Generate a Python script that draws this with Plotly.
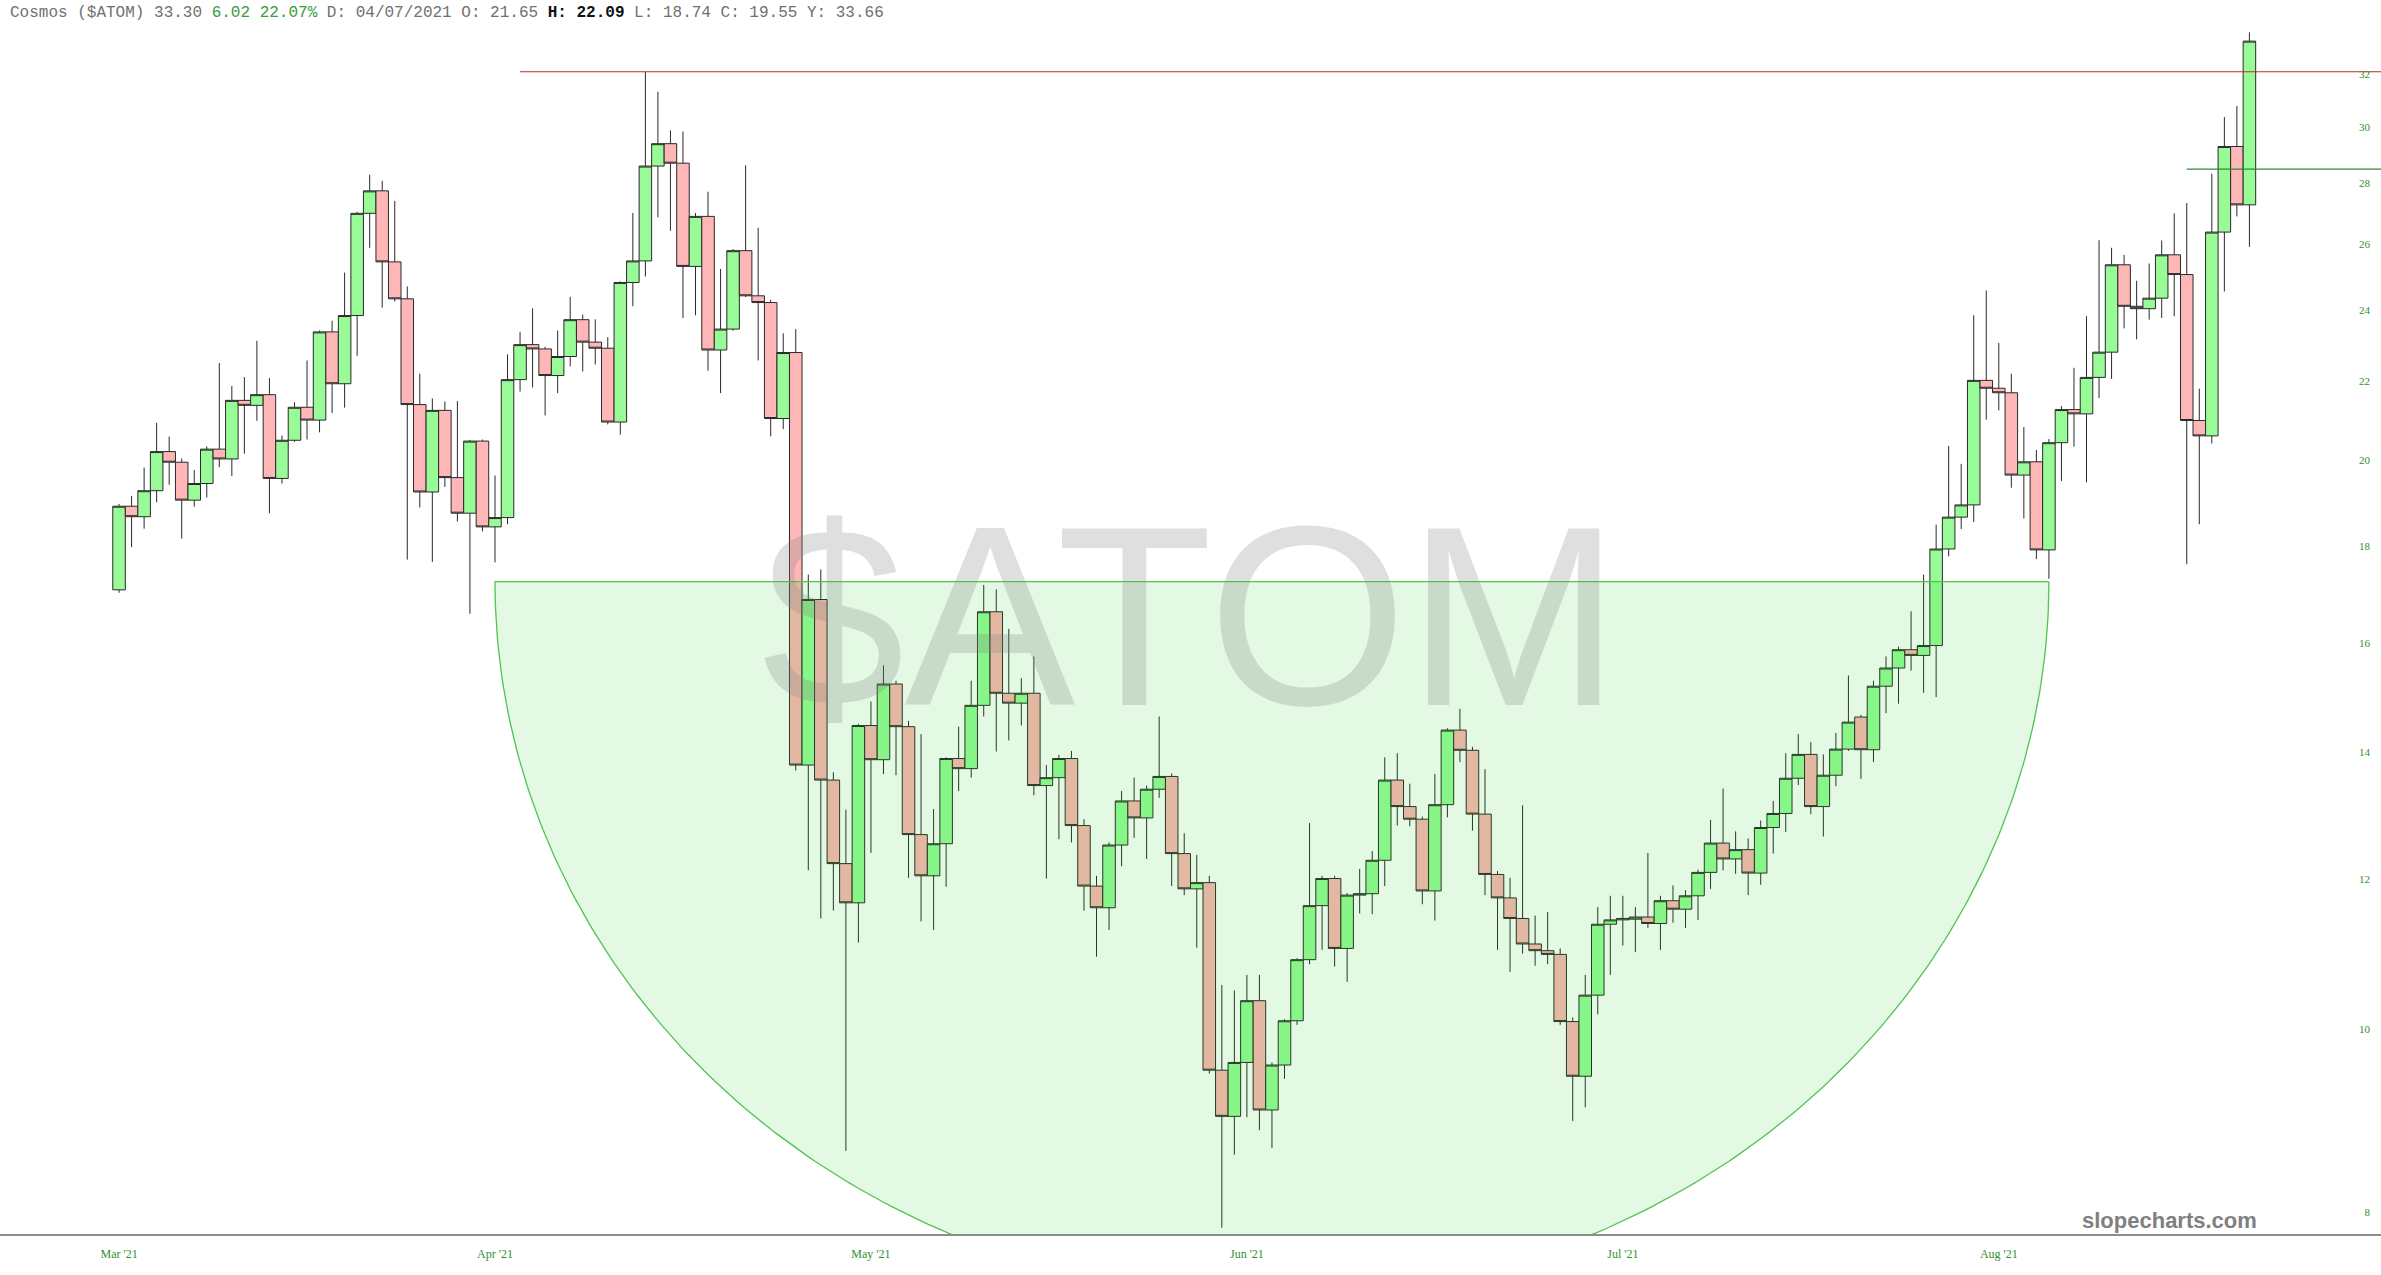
import numpy as np
import pandas as pd
import plotly.graph_objects as go

# ---------------- data ----------------
start_date = "2021-03-26"

opens = [17.07, 18.90, 18.66, 19.26, 20.20, 19.94, 19.04, 19.43, 20.26, 20.02,
         21.50, 21.37, 21.65, 19.55, 20.48, 21.32, 20.99, 23.37, 21.94, 23.84,
         27.00, 27.75, 25.45, 24.33, 21.39, 19.23, 21.24, 19.57, 18.74, 20.46,
         18.43, 18.64, 22.05, 23.01, 22.89, 22.16, 22.68, 23.72, 23.08, 22.91,
         20.94, 24.82, 25.48, 28.60, 29.39, 28.70, 25.31, 26.90, 22.86, 23.45,
         25.80, 24.42, 24.22, 21.03, 22.79, 13.79, 16.87, 13.54, 12.23, 11.66,
         14.47, 13.88, 15.22, 14.45, 12.67, 12.05, 12.53, 13.90, 13.73, 14.83,
         16.62, 15.05, 14.87, 15.05, 13.45, 13.58, 13.90, 12.81, 11.90, 11.59,
         12.51, 13.20, 12.93, 13.39, 13.60, 12.38, 11.86, 11.95, 9.51, 8.99,
         9.60, 10.35, 9.06, 9.57, 10.10, 10.88, 11.62, 12.01, 11.03, 11.77,
         11.79, 12.28, 13.54, 13.11, 12.91, 11.83, 13.14, 14.39, 14.04, 12.99,
         12.07, 11.73, 11.44, 11.09, 11.00, 10.95, 10.09, 9.44, 10.42, 11.36,
         11.42, 11.43, 11.46, 11.37, 11.69, 11.57, 11.76, 12.10, 12.54, 12.30,
         12.44, 12.09, 12.78, 13.00, 13.57, 13.97, 13.11, 13.62, 14.06, 14.62,
         14.05, 15.18, 15.52, 15.87, 15.76, 15.95, 17.94, 18.65, 18.93, 22.03,
         21.82, 21.70, 19.63, 19.95, 17.92, 20.42, 21.26, 21.15, 22.11, 22.80,
         25.36, 24.11, 24.04, 24.35, 25.67, 25.06, 20.98, 20.59, 26.39, 29.29,
         27.28]

highs = [18.95, 19.14, 19.81, 20.92, 20.57, 20.03, 19.75, 20.33, 22.50, 21.88,
         22.12, 23.12, 22.09, 20.60, 21.45, 22.57, 23.41, 23.69, 25.12, 27.05,
         28.30, 28.09, 27.41, 24.70, 22.21, 21.55, 21.47, 21.48, 20.49, 20.50,
         19.62, 22.74, 23.37, 24.05, 22.95, 23.41, 24.39, 23.87, 23.73, 23.22,
         24.85, 27.01, 32.07, 31.31, 29.87, 29.83, 27.01, 27.72, 25.23, 25.85,
         28.63, 26.53, 24.30, 23.33, 23.45, 17.39, 17.50, 13.67, 13.06, 14.50,
         14.90, 15.57, 15.28, 14.55, 14.32, 13.07, 13.92, 14.45, 15.28, 17.17,
         17.08, 16.28, 15.33, 15.74, 13.79, 13.96, 14.03, 12.91, 12.05, 12.55,
         13.36, 13.58, 13.45, 14.63, 13.65, 12.69, 12.36, 12.05, 10.55, 10.48,
         10.68, 10.68, 9.60, 10.12, 10.90, 12.85, 12.05, 12.05, 11.80, 12.15,
         12.42, 13.92, 13.99, 13.48, 12.95, 13.64, 14.42, 14.77, 14.10, 13.72,
         12.12, 12.02, 13.13, 11.48, 11.53, 11.03, 10.14, 10.68, 11.60, 11.76,
         11.76, 11.60, 12.39, 11.76, 11.91, 11.84, 12.14, 12.90, 13.40, 12.72,
         12.61, 12.89, 13.20, 13.99, 14.32, 14.18, 13.97, 14.34, 15.38, 14.66,
         15.28, 15.74, 15.93, 16.63, 17.39, 18.48, 20.34, 19.90, 23.85, 24.58,
         23.06, 22.21, 20.81, 20.24, 20.51, 21.35, 22.37, 23.82, 26.13, 25.89,
         25.67, 24.87, 25.40, 26.12, 27.00, 27.34, 21.81, 28.33, 30.36, 30.77,
         33.66]

lows = [17.01, 17.98, 18.39, 18.99, 19.40, 18.17, 18.89, 19.10, 19.82, 19.61,
        20.15, 20.97, 18.74, 19.43, 20.44, 20.50, 20.68, 21.17, 21.31, 22.70,
        25.89, 24.07, 24.25, 17.71, 18.87, 17.66, 19.35, 18.55, 16.58, 18.33,
        17.65, 18.49, 21.73, 21.84, 21.11, 21.69, 22.41, 22.27, 22.46, 20.88,
        20.62, 24.11, 25.00, 26.87, 26.43, 23.77, 23.85, 22.29, 21.69, 23.40,
        24.38, 22.57, 20.58, 20.76, 13.70, 12.13, 11.44, 11.55, 8.62, 11.11,
        12.39, 13.64, 13.62, 12.02, 11.40, 11.28, 11.89, 13.36, 13.58, 14.63,
        14.02, 14.21, 14.47, 13.29, 12.01, 12.60, 12.55, 11.55, 10.92, 11.28,
        12.19, 12.62, 12.30, 13.25, 11.90, 11.77, 11.04, 9.47, 7.85, 8.58,
        8.98, 8.84, 8.65, 9.41, 10.05, 10.82, 11.01, 10.79, 10.59, 11.51,
        11.50, 11.90, 12.81, 12.80, 11.64, 11.41, 12.94, 13.84, 12.73, 11.77,
        11.01, 10.72, 10.96, 10.80, 10.82, 10.05, 8.94, 9.09, 10.18, 10.68,
        11.07, 10.98, 11.31, 11.01, 11.38, 11.31, 11.42, 11.86, 12.13, 12.08,
        11.77, 11.92, 12.38, 12.71, 13.46, 12.99, 12.64, 13.44, 14.03, 13.56,
        13.84, 14.69, 14.86, 15.47, 15.06, 14.98, 17.78, 18.38, 18.54, 21.00,
        21.24, 19.33, 18.62, 17.72, 17.30, 19.49, 20.32, 19.46, 21.56, 22.07,
        23.47, 23.16, 23.72, 23.77, 23.82, 17.61, 18.49, 20.40, 24.55, 26.90,
        25.92]

closes = [18.90, 18.66, 19.26, 20.20, 19.94, 19.04, 19.43, 20.26, 20.02, 21.50,
          21.37, 21.65, 19.55, 20.48, 21.32, 20.99, 23.37, 21.94, 23.84, 27.00,
          27.75, 25.45, 24.33, 21.39, 19.23, 21.24, 19.57, 18.74, 20.46, 18.43,
          18.64, 22.05, 23.01, 22.89, 22.16, 22.68, 23.72, 23.08, 22.91, 20.94,
          24.82, 25.48, 28.60, 29.39, 28.70, 25.31, 26.90, 22.86, 23.45, 25.80,
          24.42, 24.22, 21.03, 22.79, 13.79, 16.87, 13.54, 12.23, 11.66, 14.47,
          13.88, 15.22, 14.45, 12.67, 12.05, 12.53, 13.90, 13.73, 14.83, 16.62,
          15.05, 14.87, 15.05, 13.45, 13.58, 13.90, 12.81, 11.90, 11.59, 12.51,
          13.20, 12.93, 13.39, 13.60, 12.38, 11.86, 11.95, 9.51, 8.99, 9.60,
          10.35, 9.06, 9.57, 10.10, 10.88, 11.62, 12.01, 11.03, 11.77, 11.79,
          12.28, 13.54, 13.11, 12.91, 11.83, 13.14, 14.39, 14.04, 12.99, 12.07,
          11.73, 11.44, 11.09, 11.00, 10.95, 10.09, 9.44, 10.42, 11.36, 11.42,
          11.44, 11.46, 11.37, 11.69, 11.57, 11.76, 12.10, 12.54, 12.30, 12.44,
          12.09, 12.78, 13.00, 13.57, 13.97, 13.11, 13.62, 14.06, 14.53, 14.05,
          15.18, 15.52, 15.87, 15.76, 15.95, 17.94, 18.65, 18.93, 22.03, 21.82,
          21.70, 19.63, 19.95, 17.92, 20.42, 21.26, 21.15, 22.11, 22.80, 25.36,
          24.11, 24.04, 24.35, 25.67, 25.06, 20.98, 20.59, 26.39, 29.29, 27.28,
          33.30]

x_tick_index = [0, 30, 60, 90, 120, 150]
x_tick_text = ["Mar '21", "Apr '21", "May '21", "Jun '21", "Jul '21", "Aug '21"]
y_tick_vals = [8, 10, 12, 14, 16, 18, 20, 22, 24, 26, 28, 30, 32]

resistance_level = 32.08      # red line
resistance_start = 32         # candle index where it starts
breakout_level = 28.49        # green line
breakout_start = 165
cup_top = 17.24               # top edge of the green bowl
cup_left, cup_right = 30, 154 # candle indices of bowl edges

# ---------------- figure ----------------
start = pd.Timestamp(start_date)
dates = pd.date_range(start, periods=len(opens), freq="D")


def day(idx):
    return start + pd.Timedelta(days=float(idx))


x_range = [day(-9.5), day(180.5)]
y_range = [np.log10(7.79), np.log10(35.01)]

fig = go.Figure()

fig.add_trace(go.Candlestick(
    x=dates, open=opens, high=highs, low=lows, close=closes,
    increasing=dict(fillcolor="#98fb98", line=dict(color="#2a2a2a", width=1)),
    decreasing=dict(fillcolor="#ffb6b6", line=dict(color="#2a2a2a", width=1)),
    whiskerwidth=0, showlegend=False, hoverinfo="skip",
))

# green bowl (half ellipse in screen space -> log space in y)
theta = np.linspace(0, np.pi, 241)
cx = (cup_left + cup_right) / 2
half_w = (cup_right - cup_left) / 2
depth_log = 0.3790
bowl_x = [day(cx + half_w * np.cos(t)) for t in theta] + [day(cup_right)]
bowl_y = list(10 ** (np.log10(cup_top) - depth_log * np.sin(theta))) + [cup_top]
fig.add_trace(go.Scatter(
    x=bowl_x, y=bowl_y, mode="lines", fill="toself",
    fillcolor="rgba(0,200,0,0.11)", line=dict(color="#4fc44f", width=1.3),
    showlegend=False, hoverinfo="skip",
))

fig.add_trace(go.Scatter(
    x=[day(resistance_start), x_range[1]], y=[resistance_level, resistance_level],
    mode="lines", line=dict(color="#c0282d", width=1.2),
    showlegend=False, hoverinfo="skip",
))
fig.add_trace(go.Scatter(
    x=[day(breakout_start), x_range[1]], y=[breakout_level, breakout_level],
    mode="lines", line=dict(color="#2e8b2e", width=1.2),
    showlegend=False, hoverinfo="skip",
))

label_green = "#2f8f2f"

fig.update_layout(
    width=2381, height=1275,
    margin=dict(l=0, r=0, t=0, b=41),
    paper_bgcolor="white", plot_bgcolor="white",
    boxgap=0, boxgroupgap=0,
    showlegend=False,
    xaxis=dict(
        type="date", range=x_range,
        rangeslider=dict(visible=False),
        tickmode="array",
        tickvals=[dates[i] for i in x_tick_index], ticktext=x_tick_text,
        tickfont=dict(family="Liberation Serif", size=12, color=label_green),
        ticks="", showgrid=False, zeroline=False,
        showline=True, linecolor="#8c8c8c", linewidth=2,
        ticklabelstandoff=8,
    ),
    yaxis=dict(
        type="log", range=y_range, side="right",
        tickmode="array", tickvals=y_tick_vals,
        ticktext=[str(v) for v in y_tick_vals],
        ticklabelposition="inside",
        tickfont=dict(family="Liberation Serif", size=11, color=label_green),
        ticks="", showgrid=False, zeroline=False, showline=False,
        ticklabelstandoff=8,
    ),
)

header = ("Cosmos ($ATOM) 33.30 <span style='color:#3c9a3c'>6.02 22.07%</span> "
          "D: 04/07/2021 O: 21.65 <b><span style='color:#111111'>H: 22.09</span></b> "
          "L: 18.74 C: 19.55 Y: 33.66")

fig.add_annotation(
    xref="paper", yref="paper", x=0, y=1, xanchor="left", yanchor="top",
    xshift=8, yshift=-2, text=header, showarrow=False,
    font=dict(family="Liberation Mono", size=16, color="#707070"),
)
fig.add_annotation(
    xref="paper", yref="paper", x=1191 / 2381, y=1 - 616.5 / 1234,
    xanchor="center", yanchor="middle", text="$ATOM", showarrow=False,
    font=dict(family="Liberation Sans", size=256, color="rgba(128,128,128,0.25)"),
)
fig.add_annotation(
    xref="paper", yref="paper", x=2169 / 2381, y=(1234 - 1220) / 1234,
    xanchor="center", yanchor="middle", text="<b>slopecharts.com</b>", showarrow=False,
    font=dict(family="Liberation Sans", size=22, color="#808080"),
)

fig.write_html("out.html",
               config={"displayModeBar": False},
               post_script="document.body.style.margin='0';document.body.style.overflow='hidden';")
